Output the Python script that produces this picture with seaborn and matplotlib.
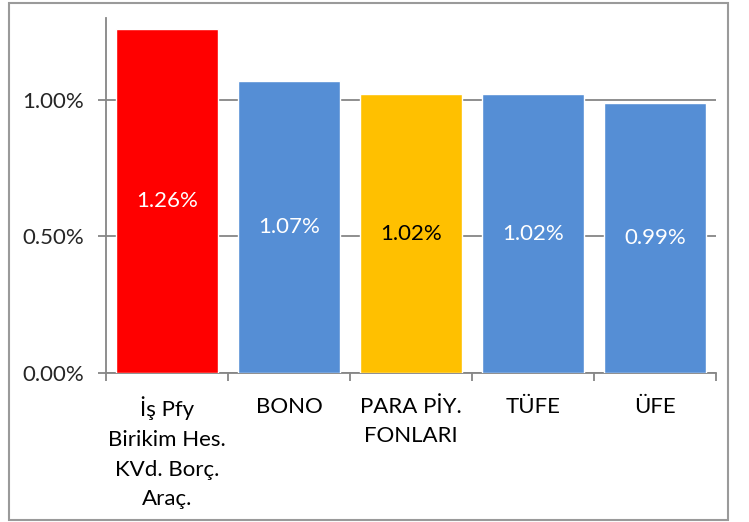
import matplotlib
matplotlib.use("Agg")
import matplotlib.pyplot as plt
import seaborn as sns
import pandas as pd
import numpy as np
from matplotlib.ticker import FuncFormatter, FixedLocator

categories = ["İş Pfy\nBirikim Hes.\nKVd. Borç.\nAraç.", "BONO", "PARA PİY.\nFONLARI", "TÜFE", "ÜFE"]
values = [1.26, 1.07, 1.02, 1.02, 0.99]
bar_colors = ["#FF0000", "#558ED5", "#FFC000", "#558ED5", "#558ED5"]
label_colors = ["white", "white", "black", "white", "white"]
yticks = [0.0, 0.5, 1.0]

sns.set_theme(style="white")
plt.rcParams['font.family'] = ['Lato', 'DejaVu Sans']

df = pd.DataFrame({"cat": categories, "val": values})

fig = plt.figure(figsize=(7.49, 5.22), dpi=100)
ax = fig.add_axes([106/749, 1-373/522, (716-106)/749, (373-18)/522])

sns.barplot(data=df, x="cat", y="val", hue="cat", order=categories,
            hue_order=categories, palette=bar_colors, legend=False,
            width=0.84, saturation=1, ax=ax, zorder=3)

ax.set_ylim(0, 1.3)
ax.set_xlim(-0.5, len(categories) - 0.5)
ax.set_yticks(yticks)
ax.yaxis.set_major_formatter(FuncFormatter(lambda v, p: f"{v:.2f}%"))
ax.yaxis.grid(True, color="#868686", linewidth=1.3, zorder=0)
ax.set_axisbelow(True)

ax.xaxis.set_minor_locator(FixedLocator(np.arange(-0.5, len(categories), 1.0)))
ax.tick_params(axis="x", which="major", length=0, pad=17, labelsize=16, colors="black")
ax.tick_params(axis="x", which="minor", length=6, width=1.3, color="#868686", bottom=True)
ax.tick_params(axis="y", which="major", length=6, width=1.3, color="#868686", pad=10,
               labelsize=16, left=True)
for lbl in ax.get_xticklabels():
    lbl.set_linespacing(1.6)
    lbl.set_verticalalignment("top")

ax.set_xlabel("")
ax.set_ylabel("")
for s in ["top", "right"]:
    ax.spines[s].set_visible(False)
for s in ["left", "bottom"]:
    ax.spines[s].set_color("#868686")
    ax.spines[s].set_linewidth(1.3)

for i, (v, c) in enumerate(zip(values, label_colors)):
    ax.text(i, v / 2, f"{v:.2f}%", ha="center", va="center", color=c, fontsize=16, zorder=5)

# outer chart border
fig.patches.append(plt.Rectangle((9/749, 2/522), (728-9)/749, (519-2)/522,
                                 transform=fig.transFigure, fill=False,
                                 edgecolor="#9a9a9a", linewidth=1.5))

fig.savefig("out.png", dpi=100)
